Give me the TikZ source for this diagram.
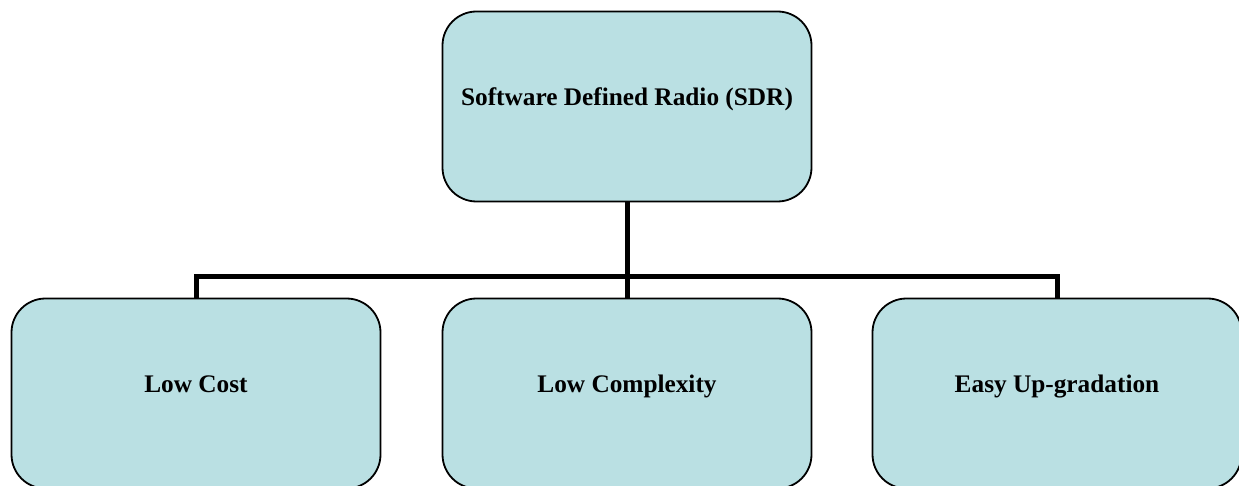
\documentclass[tikz,border=0pt]{standalone}
\usepackage{fontspec}
\setmainfont{Liberation Serif}
\definecolor{boxfill}{RGB}{186,224,227}
\tikzset{
  box/.style={draw=black, line width=1.8pt, fill=boxfill, rounded corners=34pt,
    minimum width=369pt, minimum height=190pt, inner sep=0pt,
    text height=10pt, text depth=12pt,
    font=\fontsize{25.3}{30}\selectfont\bfseries},
  conn/.style={draw=black, line width=5pt, line join=miter}
}
\begin{document}
\begin{tikzpicture}[x=1pt,y=1pt]
\useasboundingbox (0,0) rectangle (1239,-486);
\node[box] (top) at (627,-106.5) {Software Defined Radio (SDR)};
\node[box] (left) at (196,-393.5) {Low Cost};
\node[box] (mid) at (627,-393.5) {Low Complexity};
\node[box] (right) at (1057,-393.5) {Easy Up-gradation};
\coordinate (bus) at (627,-277);
\draw[conn] (top.south) -- (mid.north);
\draw[conn] (left.north) |- (bus) -| (right.north);
\end{tikzpicture}
\end{document}
